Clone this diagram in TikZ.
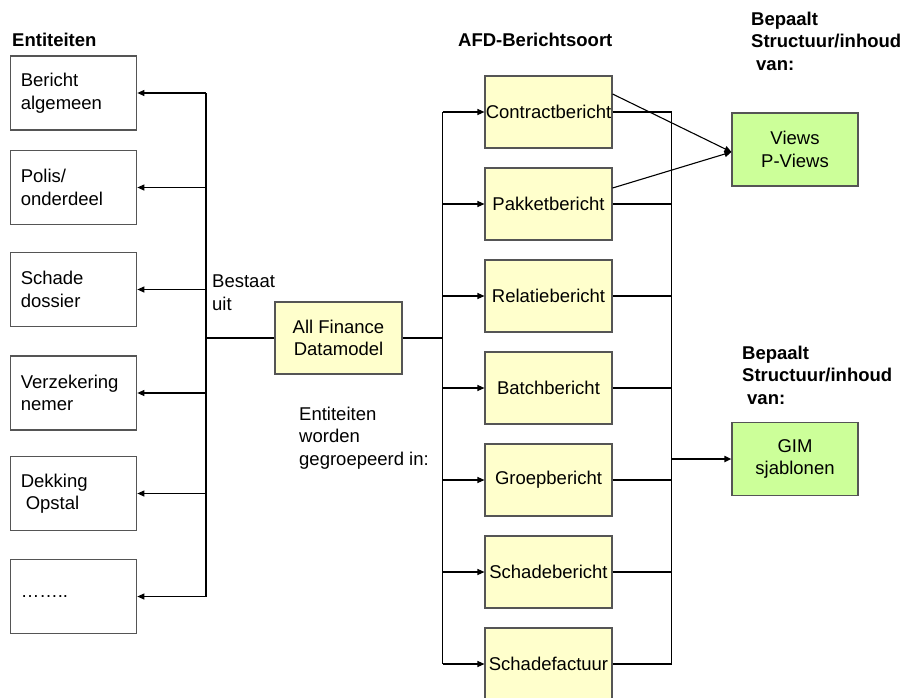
\documentclass[tikz,border=0pt]{standalone}
\usepackage{fontspec}
\setmainfont{Liberation Sans}
\usetikzlibrary{arrows.meta}
\definecolor{boxline}{HTML}{555555}
\definecolor{yel}{HTML}{FFFFCC}
\definecolor{grn}{HTML}{CCFF99}
\begin{document}
\begin{tikzpicture}[x=1pt,y=-1pt,
 every node/.style={font=\fontsize{18.5}{22.5}\selectfont},
 ent/.style={draw=boxline, line width=1.1pt, fill=white, minimum width=126pt, minimum height=74pt, text width=106pt, inner xsep=10pt, align=left},
 ber/.style={draw=boxline, line width=1.1pt, fill=yel, minimum width=127pt, minimum height=72pt, inner sep=0pt, align=center},
 tgt/.style={draw=boxline, line width=1.1pt, fill=grn, minimum width=126pt, minimum height=73pt, align=center},
 lbl/.style={inner sep=0pt, align=left, anchor=base west},
 hdr/.style={lbl, font=\fontsize{18.5}{22.5}\selectfont\bfseries},
 conn/.style={line width=1.1pt},
 trunk/.style={line width=1.7pt},
 tip/.style={-{Triangle[length=7pt,width=6pt]}}]
\useasboundingbox (0,0) rectangle (906,697);

% headers (base = last line)
\node[hdr] (hEnt) at (12,46) {Entiteiten};
\node[hdr] (hAFD) at (458,46) {AFD-Berichtsoort};
\node[hdr] (hB1) at (751,70) {Bepaalt\\Structuur/inhoud\\\hspace*{5pt}van:};
\node[hdr] (hB2) at (742,404) {Bepaalt\\Structuur/inhoud\\\hspace*{5pt}van:};

% entity boxes
\node[ent] (e1) at (73.8,93) {Bericht\\algemeen};
\node[ent] (e2) at (73.8,187.5) {Polis/\\onderdeel};
\node[ent] (e3) at (73.8,289.5) {Schade\\dossier};
\node[ent] (e4) at (73.8,393) {Verzekering\\nemer};
\node[ent] (e5) at (73.8,493.5) {Dekking\\\hspace*{5pt}Opstal};
\node[ent] (e6) at (73.8,596.5) {……..};

% central box
\node[ber] (afd) at (338.5,338) {All Finance\\Datamodel};

% message types
\node[ber] (b1) at (548.5,112) {Contractbericht};
\node[ber] (b2) at (548.5,204) {Pakketbericht};
\node[ber] (b3) at (548.5,296) {Relatiebericht};
\node[ber] (b4) at (548.5,388) {Batchbericht};
\node[ber] (b5) at (548.5,480) {Groepbericht};
\node[ber] (b6) at (548.5,572) {Schadebericht};
\node[ber] (b7) at (548.5,664) {Schadefactuur};

% targets
\node[tgt] (views) at (795,149.5) {Views\\P-Views};
\node[tgt] (gim) at (795,459) {GIM\\sjablonen};

% labels (base = last line)
\node[lbl] (tBest) at (212,310) {Bestaat\\uit};
\node[lbl] (tGroep) at (299,465) {Entiteiten\\worden\\gegroepeerd in:};

% left tree
\coordinate (busL) at (205.7,338);
\draw[trunk] (afd.west) -- (busL);
\draw[trunk] (busL |- e1.east) -- (busL |- e6.east);
\foreach \e in {e1,e2,e3,e4,e5,e6}{
  \draw[conn,tip] (busL |- \e.east) -- (\e.east);
}

% middle tree
\coordinate (busM) at (442.7,338);
\draw[trunk] (afd.east) -- (busM);
\draw[conn] (busM |- b1.west) -- (busM |- b7.west);
\foreach \b in {b1,b2,b3,b4,b5,b6,b7}{
  \draw[conn,tip] (busM |- \b.west) -- (\b.west);
}

% right tree
\coordinate (busR) at (671.7,459);
\draw[conn] (busR |- b1.east) -- (busR |- b7.east);
\foreach \b in {b1,b2,b3,b4,b5,b6,b7}{
  \draw[conn] (\b.east) -- (busR |- \b.east);
}
\draw[trunk,tip] (busR) -- (gim.west);

% to views
\coordinate (vIn) at ([yshift=-2.5pt]views.west);
\draw[conn,tip] ([yshift=18pt]b1.east) -- (vIn);
\draw[conn,tip] ([yshift=16pt]b2.east) -- (vIn);
\end{tikzpicture}
\end{document}
